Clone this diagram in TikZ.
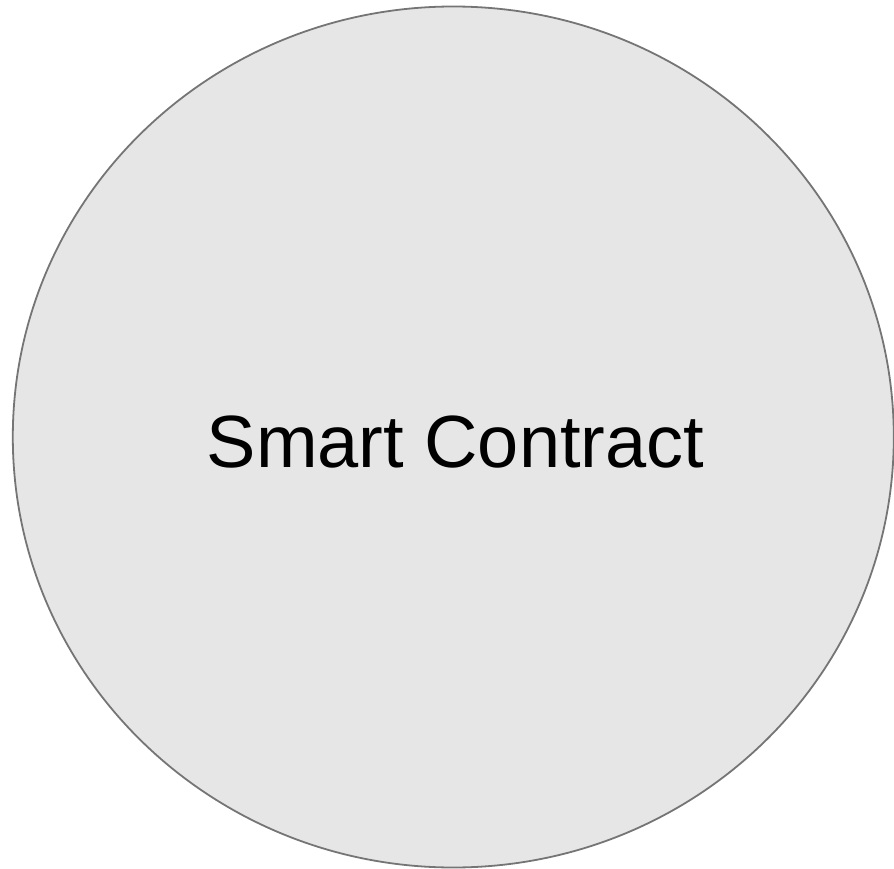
\documentclass[tikz,border=0pt]{standalone}
\usepackage{fontspec}
\setmainfont{Liberation Sans}
\definecolor{circfill}{HTML}{E6E6E6}
\definecolor{circline}{HTML}{757575}
\begin{document}
\begin{tikzpicture}[x=1pt,y=-1pt,
  contractshape/.style={draw=circline,fill=circfill,line width=1.8pt},
  labeltext/.style={font=\fontsize{74}{80}\selectfont,text=black,inner sep=0pt}]
\useasboundingbox (0,0) rectangle (894,869);
\draw[contractshape] (453.3,437) ellipse [x radius=440.5, y radius=430.5];
\node[labeltext,anchor=base] (sc) at (455.5,467) {Smart Contract};
\end{tikzpicture}
\end{document}
